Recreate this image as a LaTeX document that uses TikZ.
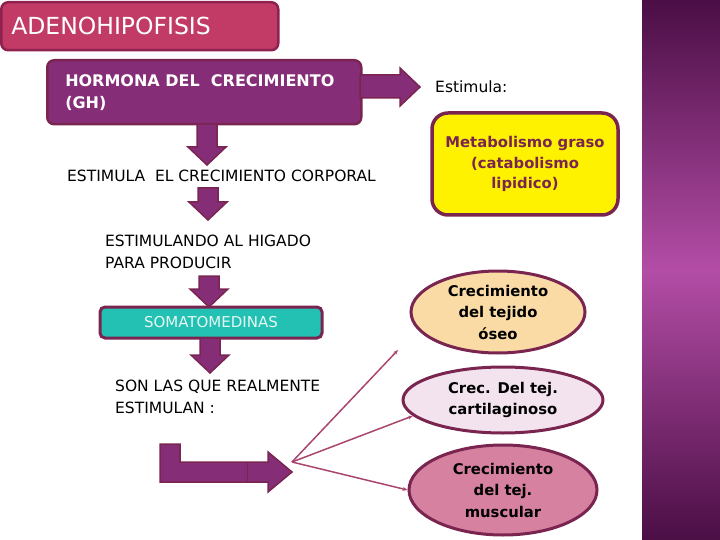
\documentclass[tikz,border=0pt]{standalone}
\usepackage{fontspec}
\setmainfont{DejaVu Sans}
\usepackage{tikz}
\usetikzlibrary{arrows.meta,
shapes.geometric
}
\definecolor{titlefill}{HTML}{C13B66}
\definecolor{titleedge}{HTML}{8E2150}
\definecolor{boxedge}{HTML}{7A2550}
\definecolor{ghfill}{HTML}{862D78}
\definecolor{arrowfill}{HTML}{862D78}
\definecolor{tealfill}{HTML}{22C1B3}
\definecolor{tealtext}{HTML}{E6F7F2}
\definecolor{peach}{HTML}{FADBA6}
\definecolor{lavender}{HTML}{F3E3EE}
\definecolor{mauve}{HTML}{D5819F}
\definecolor{linkcol}{HTML}{A9466F}
\definecolor{stripdark}{HTML}{4B0E45}
\definecolor{stripmid}{HTML}{B34DA6}
\tikzset{>={Stealth[scale=1]},
  box/.style={draw=boxedge, line width=2.5pt, rounded corners=7pt},
  oval/.style={ellipse, draw=boxedge, line width=3pt, inner sep=0pt, align=center,
    font=\bfseries\fontsize{14.8}{21.5}\selectfont},
  txt/.style={inner sep=0pt, anchor=west, align=left, font=\fontsize{15.5}{22}\selectfont},
  fat/.style={fill=arrowfill, draw=boxedge, line width=1.5pt},
  link/.style={draw=linkcol, line width=1.5pt, -{Stealth[length=5pt,width=4pt]}}
}
% down block arrow: centre x, top y, tip y
\newcommand{\fatdown}[3]{%
  \draw[fat] (#1-10,#2) -- (#1+10,#2) -- (#1+10,#3-18) -- (#1+19,#3-18) -- (#1,#3)
    -- (#1-19,#3-18) -- (#1-10,#3-18) -- cycle;}

\begin{document}
\begin{tikzpicture}[x=1pt,y=-1pt]
\useasboundingbox (0,0) rectangle (720,540);
\shade[top color=stripdark, bottom color=stripdark, middle color=stripmid] (642,0) rectangle (720,540);

\node[box, draw=titleedge, fill=titlefill, anchor=north west, minimum height=48pt,
  text width=257pt, inner xsep=10pt, align=left, text=white,
  font=\fontsize{23.5}{26}\selectfont] (title) at (0,1) {ADENOHIPOFISIS};

\node[box, fill=ghfill, anchor=north west, minimum height=64pt, text width=278pt,
  inner xsep=18pt, align=flush left, text=white, font=\bfseries\fontsize{16}{22}\selectfont]
  (gh) at (46,59) {HORMONA DEL\ \ CRECIMIENTO\\(GH)};
\draw[fat] (360,75) -- (400,75) -- (400,68) -- (420,87) -- (400,106) -- (400,98) -- (360,98) -- cycle;
\node[txt] (estimula) at (435,87) {Estimula:};

\node[box, fill=yellow, line width=3.5pt, rounded corners=16pt, minimum width=186pt,
  minimum height=102pt, align=center, text=boxedge,
  font=\bfseries\fontsize{14.8}{20.5}\selectfont] (metab) at (525,164)
  {Metabolismo graso\\(catabolismo\\lipidico)};

\fatdown{207}{124}{165}
\node[txt] (crecim) at (67,176) {ESTIMULA\ \ EL CRECIMIENTO CORPORAL};
\fatdown{208}{188}{220}
\node[txt] (higado) at (105,252) {ESTIMULANDO AL HIGADO\\PARA PRODUCIR};
\fatdown{209}{276}{307}
\node[box, fill=tealfill, line width=3pt, rounded corners=5pt, minimum width=222pt,
  minimum height=31pt, text=tealtext, font=\fontsize{15}{18}\selectfont]
  (somato) at (211,322.5) {SOMATOMEDINAS};
\fatdown{210}{338}{373}
\node[txt] (estimulan) at (115,397) {SON LAS QUE REALMENTE\\ESTIMULAN :};

\draw[fat] (160,444) -- (180,444) -- (180,462) -- (268,462) -- (268,452) -- (292,472)
  -- (268,492) -- (268,482) -- (160,482) -- cycle;
\draw[boxedge, line width=1pt] (247,462) -- (247,482);

\node[oval, fill=peach, minimum width=174pt, minimum height=82pt] (oseo) at (498,312)
  {Crecimiento\\del tejido\\óseo};
\node[oval, fill=lavender, minimum width=200pt, minimum height=66pt] (cartil) at (503,400)
  {Crec. Del tej.\\cartilaginoso};
\node[oval, fill=mauve, minimum width=188pt, minimum height=90pt] (muscul) at (503,490)
  {Crecimiento\\del tej.\\muscular};

\coordinate (hub) at (292,462);
\coordinate (oseoend) at (398,350);
\draw[link] (hub) -- (oseoend);
\draw[link] (hub) -- (cartil.190);
\draw[link] (hub) -- (muscul.west);
\end{tikzpicture}
\end{document}
